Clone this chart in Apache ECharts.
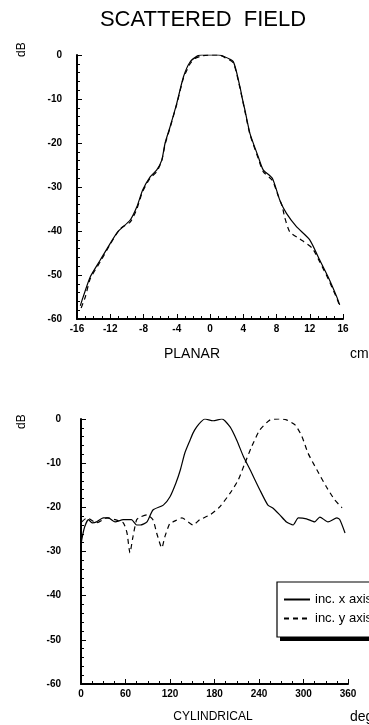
<!DOCTYPE html>
<html>
<head>
<meta charset="utf-8">
<script src="https://cdn.jsdelivr.net/npm/echarts@6/dist/echarts.min.js"></script>
<style>
  html, body { margin: 0; padding: 0; background: #fff; }
  #chart { width: 369px; height: 725px; }
</style>
</head>
<body>
<div id="chart"></div>
<script>
// planar scan (cm vs dB)
var planarX = [-15.6, -15.3, -14.4, -13.2, -12.0, -11.1, -9.6, -8.8, -8.1, -7.2, -6.4, -5.8, -5.4, -4.8, -4.0, -3.2, -2.4, -1.5, -1.0, 0, 1.0, 1.5, 2.8, 3.6, 3.9, 4.2, 4.8, 5.8, 6.4, 7.5, 8.4, 9.2, 10.4, 12.0, 13.2, 14.2, 15.3, 15.6];
var planarSolid = [-57, -55.2, -50.4, -46.6, -42.8, -40.2, -37.5, -34.5, -30.7, -27.7, -26.1, -23.9, -20, -16.3, -11, -5, -1.6, -0.2, 0, 0, 0, -0.2, -1.5, -7.2, -10, -12.5, -17.8, -23.1, -26.1, -28, -33, -36, -39, -42, -46.6, -50.4, -55.2, -56.8];
var planarDashX = [-15.5, -15.0, -14.4, -13.2, -12.0, -10.8, -9.6, -8.8, -8.1, -7.2, -6.4, -5.8, -5.4, -4.8, -4.0, -3.2, -2.4, -1.8, -1.0, 0, 1.0, 1.5, 2.8, 3.6, 4.2, 4.8, 5.8, 6.4, 7.5, 8.2, 8.7, 9.0, 9.6, 10.8, 12.3, 13.2, 14.2, 15.3, 15.6];
var planarDash = [-57.5, -55, -50.8, -47, -43, -39.5, -38, -35, -31, -28, -26.5, -24, -20.3, -16.5, -11.2, -5.3, -2.0, -0.8, -0.2, 0, 0, -0.3, -1.8, -7.5, -12.8, -18, -23.5, -26.5, -28.5, -32, -34.5, -37, -40.2, -41.8, -43.9, -47, -50.8, -55.5, -57];

// cylindrical scan (deg vs dB)
var cylX = [0, 1, 5, 10, 15, 21, 30, 37, 46, 57, 68, 75, 80, 89, 97, 111, 120, 128, 134, 140, 147, 151, 156, 162, 167, 178, 190, 201, 210, 219, 228, 241, 252, 259, 268, 277, 286, 293, 304, 315, 322, 333, 345, 349, 356];
var cylSolid = [-29, -27.4, -24.4, -22.8, -23.5, -23.3, -22.4, -22.4, -23.3, -22.8, -22.8, -24, -24, -23.3, -20.6, -19.5, -17.6, -14.5, -11.5, -7.7, -4.8, -3.2, -1.8, -0.6, 0, -0.4, 0, -1.8, -4.8, -8.5, -11.5, -16, -19.5, -20.2, -21.7, -23.3, -24, -22.4, -22.6, -23.3, -22.2, -23.3, -22.4, -22.8, -25.8];
var cylDashX = [1, 8, 21, 35, 46, 57, 62, 66, 70, 75, 80, 89, 97, 102, 109, 113, 120, 124, 136, 151, 160, 174, 187, 201, 212, 221, 230, 241, 255, 268, 277, 289, 298, 306, 318, 331, 342, 352];
var cylDash = [-23.3, -22.4, -23.5, -22.4, -22.8, -23.5, -25.8, -30.3, -26.7, -22.8, -22.2, -21.7, -22.8, -25.8, -29.2, -26.7, -23.5, -23.3, -22.4, -24, -22.8, -21.7, -19.9, -16.8, -13.8, -10, -6.3, -2.5, -0.2, 0, -0.2, -1.4, -4, -7.7, -11.5, -15.4, -18.3, -20.1];

var seriesNames = ['inc. x axis', 'inc. y axis'];

function pairs(xs, ys) {
    var out = [];
    for (var i = 0; i < xs.length; i++) {
        out.push([xs[i], ys[i]]);
    }
    return out;
}

var FONT = 'Liberation Sans';
var black = '#000';

function valueX(idx, min, max, step) {
    return {
        type: 'value', gridIndex: idx, min: min, max: max, interval: step,
        axisLine: { onZero: false, lineStyle: { color: black, width: 2 } },
        axisTick: { inside: true, length: 5, lineStyle: { color: black } },
        minorTick: { show: true, splitNumber: 4, length: 3, lineStyle: { color: black } },
        splitLine: { show: false },
        axisLabel: { color: black, fontFamily: FONT, fontWeight: 'bold', fontSize: 10, margin: 5 }
    };
}

function valueY(idx, margin) {
    return {
        type: 'value', gridIndex: idx, min: -60, max: 0, interval: 10,
        axisLine: { show: true, onZero: false, lineStyle: { color: black, width: 2 } },
        axisTick: { show: true, inside: true, length: 5, lineStyle: { color: black } },
        minorTick: { show: true, splitNumber: 5, length: 3, lineStyle: { color: black } },
        splitLine: { show: false },
        axisLabel: { color: black, fontFamily: FONT, fontWeight: 'bold', fontSize: 10, margin: margin }
    };
}

function lineSeries(name, xi, data, dashed) {
    return {
        name: name, type: 'line', xAxisIndex: xi, yAxisIndex: xi,
        data: data, symbol: 'none', smooth: 0.2,
        lineStyle: { color: black, width: 1.2, type: dashed ? [5, 4] : 'solid' },
        itemStyle: { color: black }
    };
}

var chart = echarts.init(document.getElementById('chart'));

chart.setOption({
    backgroundColor: '#fff',
    animation: false,
    grid: [
        { left: 77, top: 55, width: 266, height: 264 },
        { left: 81, top: 419, width: 267, height: 265 }
    ],
    xAxis: [valueX(0, -16, 16, 4), valueX(1, 0, 360, 60)],
    yAxis: [valueY(0, 15), valueY(1, 20)],
    legend: {
        data: seriesNames,
        left: 277, top: 582,
        orient: 'vertical',
        padding: [11, 60, 12, 6],
        itemWidth: 26, itemHeight: 14, itemGap: 6,
        itemStyle: { opacity: 0 },
        backgroundColor: '#fff',
        borderColor: black, borderWidth: 1.2, borderRadius: 0,
        z: 10,
        textStyle: { color: black, fontFamily: FONT, fontSize: 13 }
    },
    graphic: [
        { type: 'text', x: 203, y: 20, style: { text: 'SCATTERED  FIELD', font: '22px "Liberation Sans"', fill: black, align: 'center', verticalAlign: 'middle' } },
        { type: 'text', x: 16, y: 57, rotation: Math.PI / 2, style: { text: 'dB', font: '12px "Liberation Sans"', fill: black } },
        { type: 'text', x: 16, y: 429, rotation: Math.PI / 2, style: { text: 'dB', font: '12px "Liberation Sans"', fill: black } },
        { type: 'text', x: 192, y: 354, style: { text: 'PLANAR', font: '14px "Liberation Sans"', fill: black, align: 'center', verticalAlign: 'middle' } },
        { type: 'text', x: 350, y: 354, style: { text: 'cm', font: '14px "Liberation Sans"', fill: black, verticalAlign: 'middle' } },
        { type: 'text', x: 213, y: 717, style: { text: 'CYLINDRICAL', font: '12px "Liberation Sans"', fill: black, align: 'center', verticalAlign: 'middle' } },
        { type: 'text', x: 350, y: 717, style: { text: 'deg', font: '14px "Liberation Sans"', fill: black, verticalAlign: 'middle' } },
        // heavy shadow under the legend box
        { type: 'rect', z: 5, shape: { x: 280, y: 636, width: 100, height: 5 }, style: { fill: black } }
    ],
    series: [
        lineSeries(seriesNames[0], 0, pairs(planarX, planarSolid), false),
        lineSeries(seriesNames[1], 0, pairs(planarDashX, planarDash), true),
        lineSeries(seriesNames[0], 1, pairs(cylX, cylSolid), false),
        lineSeries(seriesNames[1], 1, pairs(cylDashX, cylDash), true)
    ]
});
</script>
</body>
</html>
